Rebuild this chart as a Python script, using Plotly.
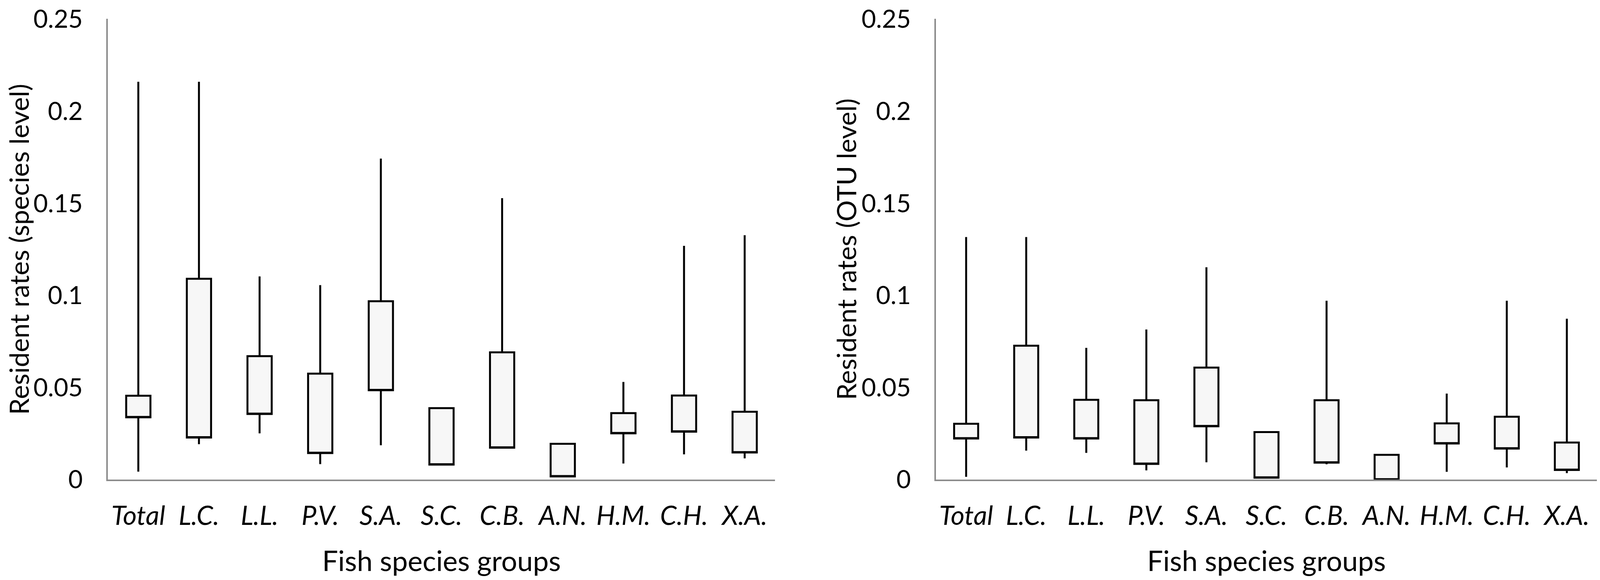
import plotly.graph_objects as go

# ---- data (min / box low / box high / max) ----
groups = ["Total", "L.C.", "L.L.", "P.V.", "S.A.", "S.C.", "C.B.", "A.N.", "H.M.", "C.H.", "X.A."]

# left panel: resident rates at species level
sp_min = [0.0043, 0.0192, 0.0251, 0.0084, 0.0186, 0.0081, 0.0170, 0.0017, 0.0087, 0.0137, 0.0115]
sp_low = [0.0338, 0.0228, 0.0356, 0.0144, 0.0485, 0.0081, 0.0173, 0.0017, 0.0251, 0.0260, 0.0147]
sp_high = [0.0455, 0.1090, 0.0670, 0.0575, 0.0968, 0.0388, 0.0691, 0.0194, 0.0361, 0.0456, 0.0368]
sp_max = [0.2160, 0.2160, 0.1103, 0.1056, 0.1743, 0.0388, 0.1528, 0.0194, 0.0530, 0.1269, 0.1327]

# right panel: resident rates at OTU level
otu_min = [0.0015, 0.0157, 0.0145, 0.0050, 0.0094, 0.0010, 0.0083, 0.0000, 0.0042, 0.0066, 0.0035]
otu_low = [0.0223, 0.0228, 0.0223, 0.0085, 0.0289, 0.0010, 0.0092, 0.0000, 0.0196, 0.0168, 0.0052]
otu_high = [0.0303, 0.0727, 0.0433, 0.0431, 0.0608, 0.0258, 0.0431, 0.0134, 0.0305, 0.0341, 0.0201]
otu_max = [0.1317, 0.1317, 0.0715, 0.0815, 0.1153, 0.0258, 0.0971, 0.0134, 0.0467, 0.0971, 0.0873]

y_ticks = [0, 0.05, 0.1, 0.15, 0.2, 0.25]

FONT = "Lato"
AXIS_GREY = "#8c8c8c"


def panel(lo, q1, q3, hi, xa, ya):
    # box drawn from q1 to q3, whiskers to min/max, no visible median
    return go.Box(
        x=groups,
        q1=q1, median=q1, q3=q3,
        lowerfence=lo, upperfence=hi,
        width=0.4,
        whiskerwidth=0,
        fillcolor="#f7f7f7",
        line=dict(color="black", width=5),
        boxpoints=False,
        showlegend=False,
        hoverinfo="skip",
        xaxis=xa, yaxis=ya,
    )


fig = go.Figure()
fig.add_trace(panel(sp_min, sp_low, sp_high, sp_max, "x", "y"))
fig.add_trace(panel(otu_min, otu_low, otu_high, otu_max, "x2", "y2"))

x_style = dict(
    type="category",
    range=[-0.5, 10.5],
    showline=True, linecolor=AXIS_GREY, linewidth=3.5,
    showgrid=False, zeroline=False, ticks="",
    tickfont=dict(family=FONT, size=68, color="black", style="italic"),
    ticklabelstandoff=31,
    title=dict(text="Fish species groups", font=dict(family=FONT, size=72, color="black"),
               standoff=66),
)
y_style = dict(
    range=[0, 0.2502],
    tickvals=y_ticks,
    showline=True, linecolor=AXIS_GREY, linewidth=3.5,
    showgrid=False, zeroline=False, ticks="",
    tickfont=dict(family=FONT, size=64, color="black"),
    ticklabelstandoff=48,
    ticklabeloverflow="allow",
)

y_title_font = dict(family=FONT, size=68, color="black")

fig.update_layout(
    height=1468, autosize=True,
    paper_bgcolor="white", plot_bgcolor="white",
    margin=dict(l=0, r=0, t=30, b=249),
    xaxis=dict(domain=[0.0658, 0.4843], anchor="y", **x_style),
    xaxis2=dict(domain=[0.5854, 1.0], anchor="y2", **x_style),
    yaxis=dict(anchor="x", **y_style),
    yaxis2=dict(anchor="x2", **y_style),
    annotations=[
        dict(text="Resident rates (species level)", x=0.0098, y=0.5,
             xref="paper", yref="paper", xanchor="center", yanchor="middle",
             textangle=-90, showarrow=False, font=y_title_font),
        dict(text="Resident rates (OTU level)", x=0.5289, y=0.5,
             xref="paper", yref="paper", xanchor="center", yanchor="middle",
             textangle=-90, showarrow=False, font=y_title_font),
    ],
)

fig.write_html("out.html")
